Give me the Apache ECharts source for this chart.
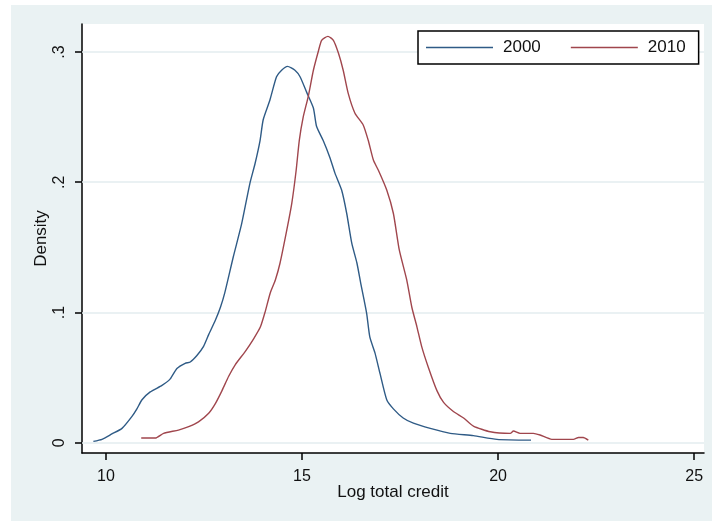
<!DOCTYPE html>
<html>
<head>
<meta charset="utf-8">
<script src="https://cdn.jsdelivr.net/npm/echarts@6/dist/echarts.min.js"></script>
<style>
  html, body { margin: 0; padding: 0; background: #ffffff; }
  #wrap { position: relative; width: 712px; height: 521px; background: #ffffff; overflow: hidden; }
  #bg { position: absolute; left: 11px; top: 5px; width: 701px; height: 516px; background: #eaf2f3; }
  #chart { position: absolute; left: 0; top: 0; width: 712px; height: 521px; }
</style>
</head>
<body>
<div id="wrap"><div id="bg"></div><div id="chart"></div></div>
<script>
// Kernel density estimates
const seriesNames = ["2000", "2010"];

const x2000 = [9.68, 9.9, 10.15, 10.41, 10.66, 10.79, 10.92, 11.13, 11.43, 11.64, 11.81, 12.02, 12.15, 12.32, 12.49, 12.62, 12.79, 12.92, 13.03, 13.25, 13.46, 13.67, 13.80, 13.93, 14.01, 14.18, 14.35, 14.48, 14.63, 14.82, 14.95, 15.12, 15.29, 15.37, 15.54, 15.71, 15.84, 16.01, 16.14, 16.27, 16.40, 16.50, 16.58, 16.65, 16.73, 16.86, 16.99, 17.16, 17.33, 17.58, 17.84, 18.27, 18.78, 19.37, 19.97, 20.84];
const d2000 = [0.001, 0.0026, 0.0067, 0.011, 0.020, 0.026, 0.033, 0.039, 0.044, 0.049, 0.057, 0.061, 0.062, 0.067, 0.074, 0.083, 0.094, 0.104, 0.115, 0.143, 0.168, 0.199, 0.214, 0.232, 0.248, 0.263, 0.281, 0.286, 0.289, 0.286, 0.281, 0.269, 0.257, 0.243, 0.232, 0.219, 0.207, 0.194, 0.176, 0.153, 0.138, 0.122, 0.110, 0.099, 0.081, 0.069, 0.053, 0.033, 0.026, 0.019, 0.015, 0.011, 0.0072, 0.0054, 0.0026, 0.002];

const x2010 = [10.90, 11.26, 11.47, 11.85, 12.11, 12.36, 12.62, 12.79, 12.96, 13.13, 13.30, 13.55, 13.77, 13.94, 14.06, 14.19, 14.32, 14.44, 14.61, 14.74, 14.85, 14.93, 15.03, 15.16, 15.29, 15.42, 15.50, 15.66, 15.80, 15.93, 16.05, 16.18, 16.35, 16.56, 16.69, 16.82, 16.95, 17.16, 17.33, 17.48, 17.67, 17.80, 17.93, 18.05, 18.22, 18.44, 18.61, 18.86, 19.12, 19.37, 19.80, 20.31, 20.39, 20.56, 20.90, 21.07, 21.37, 21.92, 22.05, 22.17, 22.30];
const d2010 = [0.0036, 0.0036, 0.0072, 0.0097, 0.0123, 0.016, 0.0226, 0.030, 0.040, 0.051, 0.060, 0.070, 0.080, 0.089, 0.1005, 0.115, 0.125, 0.138, 0.163, 0.184, 0.209, 0.232, 0.250, 0.266, 0.286, 0.301, 0.309, 0.312, 0.309, 0.299, 0.286, 0.268, 0.253, 0.244, 0.232, 0.217, 0.209, 0.194, 0.176, 0.148, 0.125, 0.104, 0.089, 0.074, 0.058, 0.040, 0.031, 0.024, 0.019, 0.0128, 0.0084, 0.0072, 0.009, 0.0072, 0.0072, 0.0059, 0.0026, 0.0026, 0.004, 0.004, 0.002];

const xTicks = [10, 15, 20, 25];
const yTicks = [0, 0.1, 0.2, 0.3];
const yTickLabels = ["0", ".1", ".2", ".3"];

const zip = (xs, ys) => xs.map((x, i) => [x, ys[i]]);

const FONT = '"Liberation Sans", Arial, sans-serif';
const TEXT = '#111111';

const chart = echarts.init(document.getElementById('chart'), null, { renderer: 'canvas' });

chart.setOption({
  animation: false,
  backgroundColor: 'transparent',
  grid: {
    left: 82, right: 8, top: 24, bottom: 68,
    show: true, backgroundColor: '#ffffff', borderWidth: 0
  },
  legend: {
    left: 418, top: 31,
    padding: [8, 13, 8, 8],
    icon: 'rect',
    itemWidth: 67, itemHeight: 1.6, itemGap: 30,
    backgroundColor: '#ffffff',
    borderColor: '#000000', borderWidth: 1.5, borderRadius: 0,
    textStyle: { fontFamily: FONT, fontSize: 17, lineHeight: 17, color: TEXT, padding: [0, 0, 0, 5] },
    data: seriesNames
  },
  xAxis: {
    type: 'value',
    min: 9.39, max: 25.25,
    name: 'Log total credit',
    nameLocation: 'middle',
    nameGap: 31,
    nameMoveOverlap: false,
    nameTextStyle: { fontFamily: FONT, fontSize: 17, color: TEXT },
    axisLine: { show: true, onZero: false, lineStyle: { color: '#000000', width: 1.5 } },
    axisTick: { show: true, length: 7, customValues: xTicks, lineStyle: { color: '#000000', width: 1.5 } },
    axisLabel: { customValues: xTicks, fontFamily: FONT, fontSize: 16, color: TEXT, margin: 16,
                 formatter: v => String(v) },
    splitLine: { show: false }
  },
  yAxis: {
    type: 'value',
    min: -0.0079, max: 0.3215,
    name: 'Density',
    nameLocation: 'middle',
    nameGap: 32,
    nameMoveOverlap: false,
    nameTextStyle: { fontFamily: FONT, fontSize: 17, color: TEXT },
    axisLine: { show: true, onZero: false, lineStyle: { color: '#000000', width: 1.5 } },
    axisTick: { show: true, length: 7, customValues: yTicks, lineStyle: { color: '#000000', width: 1.5 } },
    axisLabel: { customValues: yTicks, rotate: 90, fontFamily: FONT, fontSize: 16, color: TEXT, margin: 14,
                 formatter: v => { const i = yTicks.findIndex(t => Math.abs(t - v) < 1e-9); return i >= 0 ? yTickLabels[i] : ''; } },
    splitLine: { show: false }
  },
  series: [
    {
      name: seriesNames[0], type: 'line', data: zip(x2000, d2000),
      showSymbol: false, symbol: 'none', smooth: 0.2,
      lineStyle: { color: '#2f5b86', width: 1.4 }, itemStyle: { color: '#2f5b86' },
      z: 3,
      markLine: {
        silent: true, symbol: 'none', label: { show: false },
        lineStyle: { color: '#e3ecef', width: 1.5, type: 'solid' },
        data: yTicks.map(t => ({ yAxis: t })),
        z: 1
      }
    },
    {
      name: seriesNames[1], type: 'line', data: zip(x2010, d2010),
      showSymbol: false, symbol: 'none', smooth: 0.2,
      lineStyle: { color: '#a0464d', width: 1.4 }, itemStyle: { color: '#a0464d' },
      z: 4
    }
  ]
});
</script>
</body>
</html>
